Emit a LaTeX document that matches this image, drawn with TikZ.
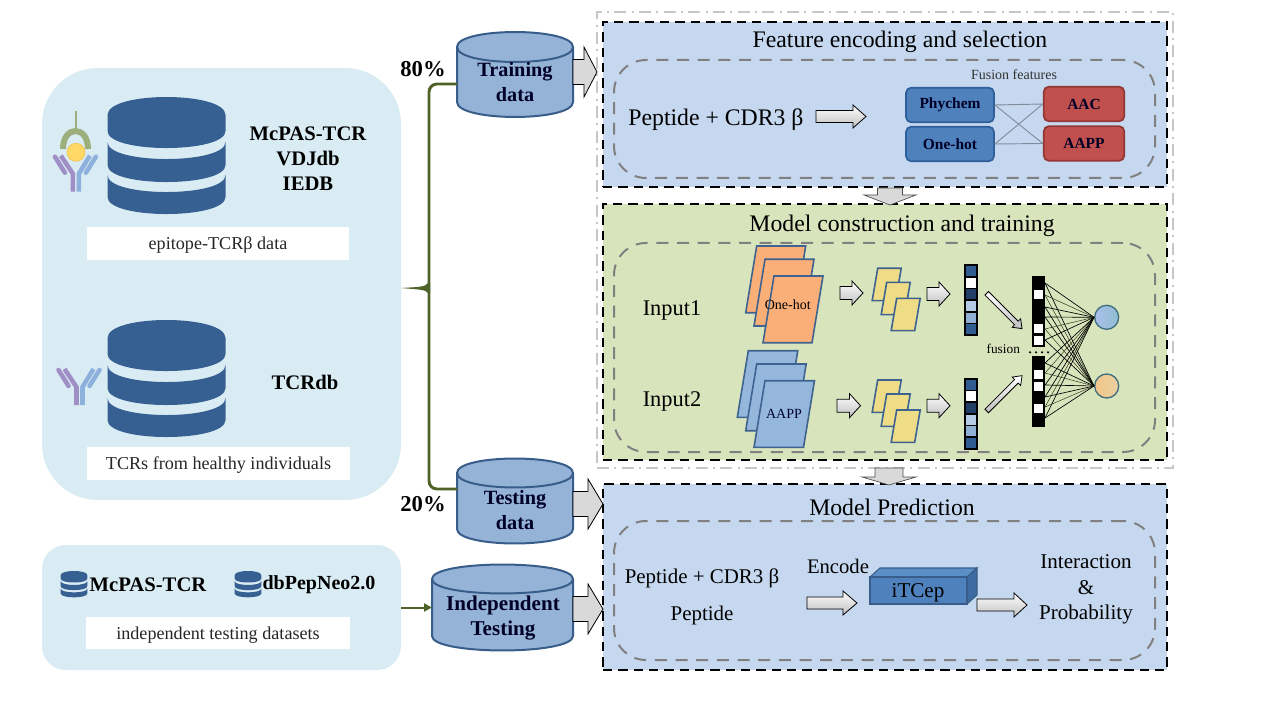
\documentclass[tikz,border=0pt]{standalone}
\usepackage{fontspec}
\setmainfont{Liberation Serif}
\usetikzlibrary{fit,arrows.meta}
\definecolor{paneL}{HTML}{DAECF3}
\definecolor{dbblue}{HTML}{366092}
\definecolor{cylf}{HTML}{95B3D7}
\definecolor{cyld}{HTML}{385D8A}
\definecolor{olv}{HTML}{4F6228}
\definecolor{panB}{HTML}{C6D8EF}
\definecolor{panG}{HTML}{D8E4BC}
\definecolor{oran}{HTML}{FAAF78}
\definecolor{bluf}{HTML}{95B7DC}
\definecolor{yel}{HTML}{EEDC86}
\definecolor{frame}{HTML}{3F6390}
\definecolor{arrg}{HTML}{D9D9D9}
\definecolor{fbfill}{HTML}{4F81BD}
\definecolor{fbdraw}{HTML}{2F5F9A}
\definecolor{frfill}{HTML}{C0504D}
\definecolor{frdraw}{HTML}{943634}
\definecolor{tpurc}{HTML}{A08FC6}
\definecolor{tbluc}{HTML}{8DB0DC}
\definecolor{agreen}{HTML}{9CAF7C}
\definecolor{ayel}{HTML}{FFD966}
\definecolor{ayeld}{HTML}{F2C14E}
\definecolor{cdraw}{HTML}{3F6E7E}
\definecolor{ca1}{HTML}{A9BFEA}
\definecolor{ca2}{HTML}{8FBED0}
\definecolor{cb1}{HTML}{F4C68A}
\definecolor{cb2}{HTML}{E8CFA0}
\definecolor{cubetop}{HTML}{5B8FC6}
\definecolor{cubeside}{HTML}{3F6CA0}
\tikzset{
  fitbox/.style={inner sep=0pt,outer sep=0pt},
  leftpanel/.style={fitbox,fill=paneL,rounded corners=#1},
  whitebox/.style={fitbox,fill=white},
  cyl/.style={fill=cylf,draw=cyld,line width=1.5pt},
  panelbox/.style={fitbox,draw=black,line width=2pt,dash pattern=on 7pt off 4.5pt},
  innerbox/.style={fitbox,draw=black!50,line width=1.5pt,dash pattern=on 9pt off 6.5pt,rounded corners=24pt},
  outerbox/.style={fitbox,draw=black!22,line width=1.2pt,dash pattern=on 9pt off 4pt on 1.5pt off 4pt},
  boldlab/.style={font=\fontsize{15.5}{18.8}\selectfont\bfseries,align=center,inner sep=0pt,yshift=-.7pt},
  cylab/.style={font=\fontsize{15.2}{18.8}\selectfont\bfseries,align=center,inner sep=0pt,text=black!85!blue},
  caption/.style={font=\fontsize{13.6}{16}\selectfont,inner sep=0pt,text=black!85,yshift=-1.5pt},
  title/.style={font=\fontsize{17.8}{20}\selectfont,inner sep=0pt,yshift=-1.5pt},
  midtext/.style={font=\fontsize{16.8}{19.5}\selectfont,inner sep=0pt,align=center,yshift=-1.5pt},
  feat/.style={rounded corners=4pt,minimum height=26pt,inner sep=0pt,line width=1.3pt,font=\fontsize{11.6}{13}\selectfont\bfseries,text=black!85!blue},
  featb/.style={feat,minimum width=66pt,fill=fbfill,draw=fbdraw},
  featr/.style={feat,minimum width=60.5pt,fill=frfill,draw=frdraw},
  bigarrow/.style={fill=arrg,draw=black,line width=.6pt},
  smallarrow/.style={top color=white,bottom color=black!25,draw=black,line width=.6pt},
  downarrow/.style={fill=arrg,draw=black!70,line width=.5pt},
  slab/.style={draw=frame,line width=1.2pt},
  trunk/.style={draw=olv,line width=2.2pt},
  netb/.style={draw=black,line width=.5pt},
  netg/.style={draw=black!50!olv,line width=.35pt},
  tpur/.style={draw=tpurc,line width=3.4pt,line cap=round,line join=round},
  tblu/.style={draw=tbluc,line width=3.4pt,line cap=round,line join=round},
}
\newcommand{\dbicon}[3]{%
 \begin{scope}[shift={(#1,#2)},scale=#3]
  \fill[dbblue] (-59,18) .. controls (-59,-6) and (59,-6) .. (59,18) -- (59,34) .. controls (59,56.7) and (-59,56.7) .. (-59,34) -- cycle;
  \fill[dbblue] (-59,45) .. controls (-59,67.7) and (59,67.7) .. (59,45) -- (59,68) .. controls (59,90.7) and (-59,90.7) .. (-59,68) -- cycle;
  \fill[dbblue] (-59,78) .. controls (-59,100.7) and (59,100.7) .. (59,78) -- (59,100) .. controls (59,122.7) and (-59,122.7) .. (-59,100) -- cycle;
 \end{scope}}
\newcommand{\tcricon}[2]{%
 \begin{scope}[shift={(#1,#2)}]
  \draw[tpur,line cap=butt] (-3,0) -- (-3,-18) -- (-15,-36);
  \draw[tpur] (-21,-35) -- (-11,-19);
  \draw[tblu,line cap=butt] (3,0) -- (3,-18) -- (14,-36);
  \draw[tblu] (20,-35) -- (10,-19);
 \end{scope}}
% cylinder: x1,x2,top-centre y,bottom-centre y,ry
\newcommand{\cylinder}[5]{%
 \path[cyl] (#1,#3) -- (#1,#4) .. controls (#1,{#4+1.33*#5}) and (#2,{#4+1.33*#5}) .. (#2,#4) -- (#2,#3) .. controls (#2,{#3-1.33*#5}) and (#1,{#3-1.33*#5}) .. (#1,#3) -- cycle;
 \draw[cyl,fill=none] (#1,#3) .. controls (#1,{#3+1.33*#5}) and (#2,{#3+1.33*#5}) .. (#2,#3);}
% block arrow: style,x1,x2,y,shaft half,head half,head length
\newcommand{\harrow}[7]{%
 \path[#1] (#2,{#4-#5}) -- ({#3-#7},{#4-#5}) -- ({#3-#7},{#4-#6}) -- (#3,#4) -- ({#3-#7},{#4+#6}) -- ({#3-#7},{#4+#5}) -- (#2,{#4+#5}) -- cycle;}
% down arrow: cx,y1,ybase,ytip,shaft half,head half
\newcommand{\darrow}[6]{%
 \path[downarrow] ({#1-#5},#2) -- ({#1+#5},#2) -- ({#1+#5},#3) -- ({#1+#6},#3) -- (#1,#4) -- ({#1-#6},#3) -- ({#1-#5},#3) -- cycle;}
\newcommand{\para}[6]{% fill,x,y,w,h,skew
 \path[slab,fill=#1] (#2,#3) -- ({#2+#4},#3) -- ({#2+#4-#6},{#3+#5}) -- ({#2-#6},{#3+#5}) -- cycle;}
\newcommand{\vbar}[2]{% x,y
 \fill[black] (#1,#2) rectangle ({#1+13.4},{#2+71.6});
 \foreach \i/\c in {0/2F5D91,1/FFFFFF,2/213F66,3/B4CCE6,4/8FB0D4,5/2F5D91}{
  \definecolor{cellc}{HTML}{\c}
  \fill[cellc] ({#1+2},{#2+1.8+\i*11.6}) rectangle ({#1+11.4},{#2+1.8+\i*11.6+10});
 }}
\begin{document}
\begin{tikzpicture}[x=0.75pt,y=-0.75pt]
\useasboundingbox (0,0) rectangle (1268,713);
\fill[white] (0,0) rectangle (1268,713);

% left panels
\node[leftpanel=42pt,fit={(42,68)(401,500)}] (srcpanel) {};
\node[leftpanel=18pt,fit={(42,545)(401,670)}] (indpanel) {};
\node[whitebox,fit={(87,227)(349,260)}] (capa) {};
\node[whitebox,fit={(87,447)(350,480)}] (capb) {};
\node[whitebox,fit={(86,617)(350,649)}] (capc) {};
\node[caption] (capat) at (capa.center) {epitope-TCRβ data};
\node[caption] (capbt) at (capb.center) {TCRs from healthy individuals};
\node[caption] (capct) at (capc.center) {independent testing datasets};

\dbicon{166.5}{97}{1}
\dbicon{166.5}{320}{1}
\dbicon{74}{571}{.225}
\dbicon{248}{571}{.225}

\node[boldlab] (dbnames) at (308,158) {McPAS-TCR\\VDJdb\\IEDB};
\node[boldlab] (tcrdb) at (305,381) {TCRdb};
\node[boldlab] (mcpas) at (148,584) {McPAS-TCR};
\node[boldlab,font=\fontsize{15}{18}\selectfont\bfseries] (neo) at (319,584) {dbPepNeo2.0};

% receptor icons
\tcricon{75.9}{191.7}
\tcricon{79.5}{405}
\draw[draw=agreen,line width=1.3pt] (75.7,111) -- (75.7,131);
\draw[draw=agreen,line width=4.5pt] (63,149) .. controls (63,125) and (88,125) .. (88,149);
\fill[ayel,draw=ayeld,line width=.5pt] (76,152.3) circle (9);

% outer frame and stage panels
\node[outerbox,fit={(597,12)(1173,468)}] (outer) {};
\node[fitbox,fill=panB,fit={(603,22)(1167,187)}] (fbg) {};
\node[fitbox,fill=panG,fit={(603,204)(1167,460)}] (gbg) {};
\node[fitbox,fill=panB,fit={(603,484)(1167,670)}] (pbg) {};
\node[panelbox,fit={(603,22)(1167,187)}] (feature) {};
\node[panelbox,fit={(603,204)(1167,460)}] (model) {};
\node[panelbox,fit={(603,484)(1167,670)}] (predict) {};
\node[innerbox,fit={(614,60)(1155,178)}] (inf) {};
\node[innerbox,fit={(614,243)(1155,452)}] (inm) {};
\node[innerbox,fit={(614,521)(1155,660)}] (inp) {};

\node[title] (t1) at (900,39.5) {Feature encoding and selection};
\node[title] (t2) at (902,224) {Model construction and training};
\node[title] (t3) at (892,505) {Model Prediction};

% cylinders
\cylinder{457}{573}{47}{102}{15}
\cylinder{457}{573}{473}{529}{14.5}
\cylinder{432}{573}{579}{636}{14.5}
\node[fitbox,fit={(457,32)(573,117)}] (train) {};
\node[fitbox,fit={(457,458)(573,544)}] (test) {};
\node[fitbox,fit={(432,565)(573,650)}] (indep) {};
\node[cylab] (trainl) at (515,82.5) {Training\\data};
\node[cylab] (testl) at (515,510) {Testing\\data};
\node[cylab,font=\fontsize{15.8}{19.4}\selectfont\bfseries] (indl) at (503,618) {Independent\\Testing};
\node[boldlab,font=\fontsize{17}{20}\selectfont\bfseries] (p80) at (423,68) {80\%};
\node[boldlab,font=\fontsize{17}{20}\selectfont\bfseries] (p20) at (423,503.5) {20\%};

% olive trunk
\coordinate (join) at (429,288);
\draw[trunk,rounded corners=6pt] (train.west |- 0,84) -- (429,84) -- (join) -- (429,489) -- (test.west |- 0,489);
\fill[olv] (srcpanel.east |- join) .. controls (418,287) and (426,287) .. (428,283) -- (430,283) -- (430,293) -- (428,293) .. controls (426,289.5) and (418,289.5) .. (srcpanel.east |- join) -- cycle;
\draw[draw=olv,line width=1.5pt,-{Triangle[length=6pt,width=6pt]}] (indpanel.east |- indep.west) -- (indep.west);

% big block arrows
\harrow{bigarrow}{573}{597}{72}{12.5}{25}{13}
\harrow{bigarrow}{573}{603}{504}{12.5}{25}{15}
\harrow{bigarrow}{573}{603}{609}{12.5}{25}{15}
\darrow{890}{188}{195}{205}{12.5}{26}
\darrow{889}{468}{477}{485}{14}{27}

% feature panel
\node[midtext,font=\fontsize{17.8}{20}\selectfont] (pepa) at (716,118) {Peptide + CDR3 β};
\harrow{smallarrow}{816}{866}{116.5}{6}{11.5}{13}
\node[inner sep=0pt,font=\fontsize{10.5}{12}\selectfont,text=black!80] (fus) at (1014,75) {Fusion features};
\node[featb] (phy) at (950,105) {Phychem};
\node[featb] (one) at (950,144) {One-hot};
\node[featr] (aac) at (1084,104) {AAC};
\node[featr] (aapp) at (1084,143.5) {AAPP};
\foreach \a/\b in {phy/aac,phy/aapp,one/aac,one/aapp}
  \draw[draw=black!35!panB,line width=.7pt] (\a.east) -- (\b.west);

% model panel
\node[midtext] (in1) at (672,308) {Input1};
\node[midtext] (in2) at (672,399) {Input2};
\para{oran}{756.7}{246}{49}{66.7}{11}
\para{oran}{765}{259.3}{49}{66.7}{11}
\para{oran}{774}{276}{49}{66.7}{11}
\para{bluf}{748.3}{350.7}{49.5}{66.7}{11}
\para{bluf}{756.7}{364}{49.5}{66.7}{11}
\para{bluf}{765}{380.7}{49.5}{66.7}{11}
\node[inner sep=0pt,font=\fontsize{10.5}{12}\selectfont] (oh) at (787.7,305) {One-hot};
\node[inner sep=0pt,font=\fontsize{10.5}{12}\selectfont,text=black!80!blue] (ap) at (784,414) {AAPP};
\foreach \dy in {0,111.7}{
 \pgfmathsetmacro\ya{268.3+\dy}
 \pgfmathsetmacro\yb{282.3+\dy}
 \pgfmathsetmacro\yc{298.3+\dy}
 \para{yel}{877.7}{\ya}{23.5}{32.3}{5.5}
 \para{yel}{886.7}{\yb}{23.5}{32.3}{5.5}
 \para{yel}{896.7}{\yc}{23.5}{32.3}{5.5}
}
\harrow{smallarrow}{840}{863}{293}{6.5}{12}{11}
\harrow{smallarrow}{927}{950}{294}{6.5}{12}{11}
\harrow{smallarrow}{837}{860.5}{405.7}{6.5}{12}{11}
\harrow{smallarrow}{927}{950}{405.7}{6.5}{12}{11}
\vbar{964.3}{264.3}
\vbar{964.3}{378}
\begin{scope}[shift={(986.7,293.3)},rotate=-45]
 \path[smallarrow] (0,-2.5) -- (42,-2.5) -- (42,-6) -- (50,0) -- (42,6) -- (42,2.5) -- (0,2.5) -- cycle;
\end{scope}
\begin{scope}[shift={(986.7,411)},rotate=45]
 \path[smallarrow] (0,-2.5) -- (42,-2.5) -- (42,-6) -- (50,0) -- (42,6) -- (42,2.5) -- (0,2.5) -- cycle;
\end{scope}
\node[fitbox,fill=black,fit={(1031.7,276)(1045,346.7)}] (fb1) {};
\node[fitbox,fill=black,fit={(1031.7,356)(1045,427.3)}] (fb2) {};
\foreach \y in {290,324.3,335.7,370,381.7,404.3}
  \fill[white] (1034,\y) rectangle (1043.3,{\y+9});
\node[inner sep=0pt,font=\fontsize{10}{12}\selectfont] (fuslab) at (1003.3,349) {fusion};
\foreach \x in {1030,1036,1042,1048}
  \fill[black] (\x,352.3) circle (1.2);
\node[circle,minimum size=18pt,inner sep=0pt,draw=cdraw,line width=1pt,left color=ca1,right color=ca2] (c1) at (1106.7,317.3) {};
\node[circle,minimum size=18pt,inner sep=0pt,draw=cdraw,line width=1pt,left color=cb1,right color=cb2] (c2) at (1106.7,386) {};
\foreach \y/\s in {283/netb,295/netg,307/netb,317/netb,329/netg,340/netb,363/netb,373/netg,385/netb,397/netb,407/netg,418/netb}{
  \draw[\s] (fb1.east |- 0,\y) -- (c1.west);
  \draw[\s] (fb1.east |- 0,\y) -- (c2.west);
}

% prediction panel
\node[midtext,font=\fontsize{15.7}{19}\selectfont] (pepb) at (702,576) {Peptide + CDR3 β};
\node[midtext,font=\fontsize{15.7}{19}\selectfont] (pepc) at (702,613) {Peptide};
\node[midtext,font=\fontsize{15.5}{19}\selectfont] (enc) at (838,564) {Encode};
\harrow{smallarrow}{807}{857}{603}{6}{12}{14}
\path[fill=cubetop,draw=cyld,line width=.8pt] (870,577) -- (880,568) -- (977,568) -- (967,577) -- cycle;
\path[fill=cubeside,draw=cyld,line width=.8pt] (967,577) -- (977,568) -- (977,595) -- (967,604) -- cycle;
\node[fitbox,fill=fbfill,draw=cyld,line width=.8pt,fit={(870,577)(967,604)}] (itc) {};
\node[midtext,font=\fontsize{15.8}{19}\selectfont] (itct) at (918,591) {iTCep};
\harrow{smallarrow}{977}{1027}{605}{6}{12}{13}
\node[midtext,font=\fontsize{15.8}{19.2}\selectfont] (out) at (1086,587.5) {Interaction\\\&\\Probability};
\end{tikzpicture}
\end{document}
